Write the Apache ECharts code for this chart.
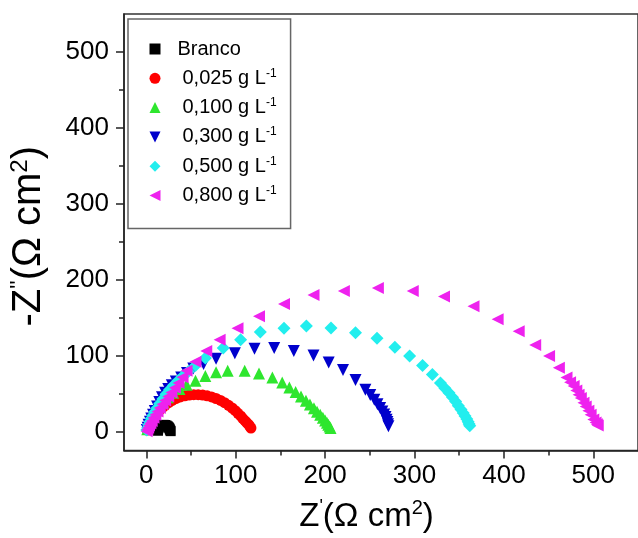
<!DOCTYPE html>
<html><head><meta charset="utf-8">
<script src="https://cdn.jsdelivr.net/npm/echarts@6/dist/echarts.min.js"></script>
<style>html,body{margin:0;padding:0;background:#fff}#c{width:638px;height:538px}</style>
</head><body><div id="c"></div>
<script>
// ---- data (Z', -Z'') ----
const seriesNames = ['Branco', '0,025 g L-1', '0,100 g L-1', '0,300 g L-1', '0,500 g L-1', '0,800 g L-1'];
const branco = [[13,1],[13.2,3],[13.8,5],[14.8,6.7],[16.2,7.8],[17.8,8.5],[19.4,8.8],[21,8.6],[22.5,8],[23.8,7],[24.8,5.8],[25.6,4.5],[26.2,3],[26.7,1.6],[27.2,0.5]];
const c025 = [[1,2],[2,5],[3.5,9],[5,13],[7,17],[9.5,21],[12,25],[15,28.5],[18,31.5],[21,34.5],[25,38],[29,41],[33,43.5],[38,45.5],[43,47],[48,48],[53,48.5],[58,48.5],[63,48],[68,47],[73,45.5],[78,43.5],[83,41],[87.5,38],[92,34.5],[96,31],[99.5,27.5],[102.5,24],[105.5,20.5],[108,17],[110.5,14],[112.5,11.5],[114.5,9],[116,6.5],[117,4.5]];
const c100 = [[1,3],[2,7],[3.5,11],[5,15],[7,19],[9,23],[12,28],[15,33],[19,39],[24,45],[30,51],[37,56],[45,61.5],[55,67],[66,73],[78,78],[91,80],[110,80],[126,76.5],[141,71],[152,64.5],[160,58],[167,52],[173,46],[178.5,40.5],[183,35.5],[187.5,30.5],[191,26],[194.5,22],[197.5,18],[200,14.5],[202,11.5],[203.5,9],[205,6.5],[206,4.5]];
const c300 = [[0.5,2],[1.5,5],[2.5,9],[4,13],[5.5,17],[7.5,22],[9.5,27],[12,33],[14.5,39],[17.5,45],[21,51],[24.5,56],[28.5,61],[33,66],[39,71],[45.5,77],[52.5,83],[64,89],[78,96],[99,103],[121,109],[143,110],[165,106],[187,100],[204,91],[220,81],[234,68],[245,55],[250.5,48],[255,42],[258.5,36],[261.5,31],[264,26.5],[266,22.5],[267.5,19],[268.7,15.5],[269.6,12.5],[270.3,9.5],[270.8,7]];
const c500 = [[0.5,2],[1.5,5],[2.5,9],[4,13],[5.5,17],[7.5,21.5],[9.5,26],[12,31],[15,37],[18.5,43],[22,49],[26,55],[30.5,61],[35.5,67],[41,73],[47,79],[55,87],[66,97],[86,110],[105.5,121],[127.5,131],[154,136],[179,139],[206.6,136.5],[234,130],[258,123],[278,111],[294.5,99.6],[309,87],[320,75],[329,64],[334,57],[338.5,51],[342.5,45],[346,39.5],[349,34],[352,29],[354.5,24.5],[356.5,20.5],[358.5,16.5],[360,13],[361,10],[361.8,7.5]];
const c800 = [[0.3,0.5],[1,2.5],[2,5],[3,8],[4.5,11],[6,14],[8,18],[10,22],[12.5,26.5],[15,31],[18,36],[21,41],[24.5,46],[28,51.5],[32,57.5],[36,64],[40.5,71.5],[45,80],[55,92],[67,106],[82,121],[102,136],[126,152],[154,168],[187,180],[221,185],[259,189],[298,185],[333,178],[366,165],[393,148],[416.5,132],[435,114],[450.5,99.6],[461.5,84],[470,71],[474,65],[478,60],[481,54],[483.5,48.5],[486,44],[489,38],[491.5,33],[494.5,27.5],[497,22],[500,16],[502.5,12],[504,9.5],[505,8]];
const xTicks = [0, 100, 200, 300, 400, 500];
const xMinor = [50, 150, 250, 350, 450];
const yTicks = [0, 100, 200, 300, 400, 500];
const yMinor = [50, 150, 250, 350, 450];

const FONT = 'Liberation Sans, Arial, Helvetica, sans-serif';
const axisColor = '#222';

const styles = [
  {data: branco, symbol: 'rect', size: 10, color: '#000000'},
  {data: c025, symbol: 'circle', size: 11, color: '#ff0000'},
  {data: c100, symbol: 'triangle', size: 12, color: '#2ee62e'},
  {data: c300, symbol: 'path://M0,0L10,0L5,10Z', size: 12, color: '#0000cc'},
  {data: c500, symbol: 'diamond', size: 13, color: '#22eeee'},
  {data: c800, symbol: 'path://M10,0L10,10L0,5Z', size: 12, color: '#ee22ee'}
];

const chart = echarts.init(document.getElementById('c'), null, {renderer: 'canvas'});
const option = {
  animation: false,
  backgroundColor: '#ffffff',
  grid: {left: 124, top: 14, right: -9, bottom: 85, show: true, borderColor: '#333', borderWidth: 1.5, backgroundColor: 'transparent'},
  legend: {
    orient: 'vertical', left: 128, top: 19,
    padding: [19, 14, 22, 21.5], itemGap: 7.3, itemWidth: 11, itemHeight: 11,
    borderColor: '#666', borderWidth: 1.5,
    data: seriesNames,
    formatter: function (name) {
      if (name === 'Branco') return '{a|Branco}';
      return '{n|' + name.replace(' L-1', ' L') + '}{s|-1}';
    },
    textStyle: {
      fontSize: 20, color: '#000', fontFamily: FONT, lineHeight: 22,
      rich: {
        a: {fontSize: 20, lineHeight: 22, fontFamily: FONT, color: '#000', padding: [0, 0, 0, 12]},
        n: {fontSize: 20, lineHeight: 22, fontFamily: FONT, color: '#000', padding: [0, 0, 0, 17]},
        s: {fontSize: 12, lineHeight: 12, fontFamily: FONT, color: '#000', verticalAlign: 'top'}
      }
    }
  },
  xAxis: [
    {
      type: 'value', min: -25, max: 550, position: 'bottom',
      axisLine: {onZero: false, lineStyle: {color: axisColor, width: 1.5}},
      axisTick: {show: true, customValues: xTicks, length: 8, lineStyle: {color: axisColor, width: 1.5}},
      axisLabel: {customValues: xTicks, margin: 12, color: '#000', fontSize: 26, fontFamily: FONT},
      splitLine: {show: false},
      name: '{t|Z}{p|\'}{t|(Ω cm}{s|2}{t|)}',
      nameLocation: 'middle', nameGap: 48,
      nameTextStyle: {
        padding: [0, 29, 0, 0],
        rich: {
          t: {fontSize: 33, fontFamily: FONT, color: '#000', lineHeight: 36},
          p: {fontSize: 18, fontFamily: FONT, color: '#000', lineHeight: 18, verticalAlign: 'top'},
          s: {fontSize: 20, fontFamily: FONT, color: '#000', lineHeight: 20, verticalAlign: 'top'}
        }
      }
    },
    {
      type: 'value', min: -25, max: 550, position: 'bottom',
      axisLine: {show: false, onZero: false},
      axisTick: {show: true, customValues: xMinor, length: 5, lineStyle: {color: axisColor, width: 1.5}},
      axisLabel: {show: false},
      splitLine: {show: false}
    }
  ],
  yAxis: [
    {
      type: 'value', min: -25, max: 550, position: 'left',
      axisLine: {onZero: false, lineStyle: {color: axisColor, width: 1.5}},
      axisTick: {show: true, customValues: yTicks, length: 8, lineStyle: {color: axisColor, width: 1.5}},
      axisLabel: {customValues: yTicks, margin: 15, color: '#000', fontSize: 26, fontFamily: FONT},
      splitLine: {show: false},
      name: '{t|-Z}{p|\'\'}{t|(Ω cm}{s|2}{t|)}',
      nameLocation: 'middle', nameGap: 74, nameRotate: 90,
      nameTextStyle: {
        padding: [0, 8, 0, 0],
        rich: {
          t: {fontSize: 40, fontFamily: FONT, color: '#000', lineHeight: 42},
          p: {fontSize: 22, fontFamily: FONT, color: '#000', lineHeight: 22, verticalAlign: 'top'},
          s: {fontSize: 24, fontFamily: FONT, color: '#000', lineHeight: 24, verticalAlign: 'top'}
        }
      }
    },
    {
      type: 'value', min: -25, max: 550, position: 'left',
      axisLine: {show: false, onZero: false},
      axisTick: {show: true, customValues: yMinor, length: 5, lineStyle: {color: axisColor, width: 1.5}},
      axisLabel: {show: false},
      splitLine: {show: false}
    }
  ],
  series: styles.map((s, i) => ({
    name: seriesNames[i],
    type: 'scatter',
    xAxisIndex: 0, yAxisIndex: 0,
    data: s.data,
    symbol: s.symbol,
    symbolSize: s.size,
    itemStyle: {color: s.color, opacity: 1},
    emphasis: {disabled: true}
  }))
};
chart.setOption(option);
</script>
</body></html>
